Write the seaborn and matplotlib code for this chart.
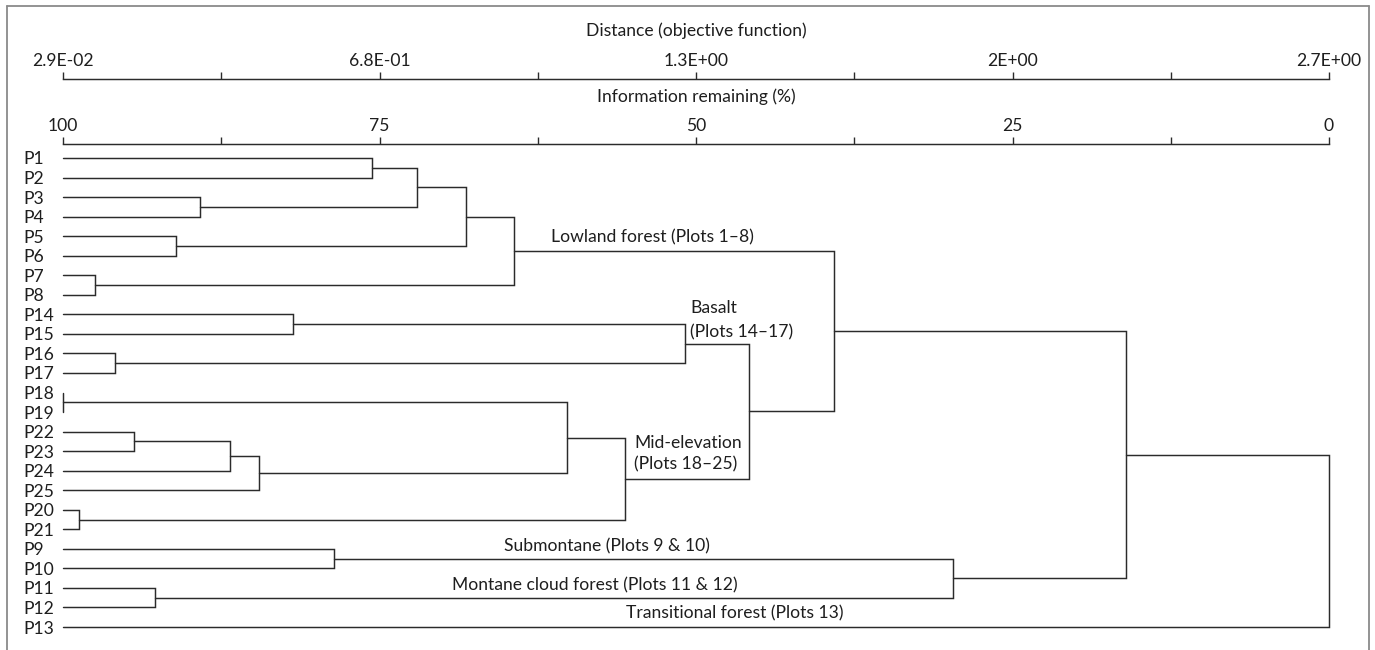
import matplotlib
matplotlib.use("Agg")
import matplotlib.pyplot as plt
from matplotlib.lines import Line2D
import numpy as np
import pandas as pd
import seaborn as sns

# ---- data -------------------------------------------------------------
leaf_order = ["P1", "P2", "P3", "P4", "P5", "P6", "P7", "P8",
              "P14", "P15", "P16", "P17", "P18", "P19", "P22", "P23",
              "P24", "P25", "P20", "P21", "P9", "P10", "P11", "P12", "P13"]

# agglomeration steps: cluster Ck joins merge_left[k] and merge_right[k]
merge_left = ["P1", "P3", "C0", "P5", "C2", "P7", "C4", "P14", "P16", "C7",
              "P18", "P22", "C11", "C12", "C10", "P20", "C14", "C9", "C6",
              "P9", "P11", "C19", "C18", "C22"]
merge_right = ["P2", "P4", "C1", "P6", "C3", "P8", "C5", "P15", "P17", "C8",
               "P19", "P23", "P24", "P25", "C13", "P21", "C15", "C16", "C17",
               "P10", "P12", "C20", "C21", "P13"]
# information remaining (%) at each fusion
merge_info = [75.6, 89.2, 72.0, 91.1, 68.2, 97.5, 64.4, 81.8, 95.9, 50.9,
              100.0, 94.4, 86.8, 84.5, 60.2, 98.7, 55.6, 45.8, 39.1,
              78.6, 92.7, 29.7, 16.0, 0.0]

info_ticks = [100, 75, 50, 25, 0]
info_minor = [87.5, 62.5, 37.5, 12.5]
info_labels = ["100", "75", "50", "25", "0"]
dist_labels = ["2.9E-02", "6.8E-01", "1.3E+00", "2E+00", "2.7E+00"]

# ---- build dendrogram segments -----------------------------------------
node_y = {name: float(i) for i, name in enumerate(leaf_order)}
node_h = {name: 100.0 for name in leaf_order}
rows = []
for k, (a, b, h) in enumerate(zip(merge_left, merge_right, merge_info)):
    ya, yb = node_y[a], node_y[b]
    pts = [(node_h[a], ya), (h, ya), (h, yb), (node_h[b], yb)]
    for order, (x, y) in enumerate(pts):
        rows.append({"seg": k, "order": order, "x": x, "y": y})
    node_y[f"C{k}"] = (ya + yb) / 2.0
    node_h[f"C{k}"] = h
segs = pd.DataFrame(rows)

# ---- figure -----------------------------------------------------------
sns.set_theme(style="white")
plt.rcParams["font.family"] = ["Lato", "DejaVu Sans"]
FS = 12.6
INK = "#2b2b2b"
TXT = "#1e1e1e"

W, H = 1375, 650
fig = plt.figure(figsize=(W / 100, H / 100), dpi=100)
fig.patch.set_facecolor("white")


def fx(px):
    return px / W


def fy(py):
    return 1 - py / H


x0, x1 = 63, 1329
ax = fig.add_axes([fx(x0), fy(645), fx(x1) - fx(x0), fy(144) - fy(645)])
ax.set_facecolor("none")

sns.lineplot(data=segs, x="x", y="y", units="seg", estimator=None,
             sort=False, color=INK, linewidth=1.05, ax=ax, legend=False)
for ln in ax.lines:
    ln.set_clip_on(False)
    ln.set_solid_joinstyle("miter")

ax.set_xlim(100, 0)
ax.set_ylim(24.92, -0.716)
ax.set_xlabel("")
ax.set_ylabel("")

for side in ("left", "right", "bottom"):
    ax.spines[side].set_visible(False)
ax.spines["top"].set_color(INK)
ax.spines["top"].set_linewidth(1.05)

ax.xaxis.tick_top()
ax.set_xticks(info_ticks)
ax.set_xticklabels(info_labels)
ax.set_xticks(info_minor, minor=True)
ax.tick_params(axis="x", which="both", direction="out", length=5, width=1.0,
               color=INK, top=True, bottom=False, labeltop=True,
               labelbottom=False, pad=2, labelsize=FS, labelcolor=TXT)

ax.set_yticks(range(len(leaf_order)))
ax.set_yticklabels(leaf_order)
ax.tick_params(axis="y", which="both", left=True, length=0, pad=28.8,
               labelsize=FS, labelcolor=TXT)
for lab in ax.get_yticklabels():
    lab.set_horizontalalignment("left")

# distance scale drawn above the information scale
ax2 = fig.add_axes([fx(x0), fy(79) - 0.001, fx(x1) - fx(x0), 0.001])
ax2.set_facecolor("none")
ax2.set_xlim(100, 0)
for side in ("left", "right", "bottom"):
    ax2.spines[side].set_visible(False)
ax2.spines["top"].set_color(INK)
ax2.spines["top"].set_linewidth(1.05)
ax2.xaxis.tick_top()
ax2.set_xticks(info_ticks)
ax2.set_xticklabels(dist_labels)
ax2.set_xticks(info_minor, minor=True)
ax2.set_yticks([])
ax2.tick_params(axis="x", which="both", direction="out", length=5, width=1.0,
                color=INK, top=True, bottom=False, labeltop=True,
                labelbottom=False, pad=2, labelsize=FS, labelcolor=TXT)

fig.text(fx(696), fy(31), "Distance (objective function)", ha="center",
         va="center", fontsize=FS, color=TXT)
fig.text(fx(696), fy(97), "Information remaining (%)", ha="center",
         va="center", fontsize=FS, color=TXT)

# group annotations
notes = [
    (61.45, 4.05, "Lowland forest (Plots 1–8)"),
    (50.45, 7.68, "Basalt"),
    (50.45, 8.90, "(Plots 14–17)"),
    (54.90, 14.59, "Mid-elevation"),
    (54.90, 15.66, "(Plots 18–25)"),
    (65.15, 19.85, "Submontane (Plots 9 & 10)"),
    (69.25, 21.85, "Montane cloud forest (Plots 11 & 12)"),
    (55.50, 23.30, "Transitional forest (Plots 13)"),
]
for x, y, s in notes:
    ax.text(x, y, s, ha="left", va="center", fontsize=FS, color=TXT)

# outer frame
frame_kw = dict(color="#8a8a8a", linewidth=1.3, transform=fig.transFigure)
fig.add_artist(Line2D([fx(6.5), fx(6.5)], [0, fy(5.5)], **frame_kw))
fig.add_artist(Line2D([fx(6.5), fx(1368.5)], [fy(5.5), fy(5.5)], **frame_kw))
fig.add_artist(Line2D([fx(1368.5), fx(1368.5)], [fy(5.5), 0], **frame_kw))

fig.savefig("out.png", dpi=100)
